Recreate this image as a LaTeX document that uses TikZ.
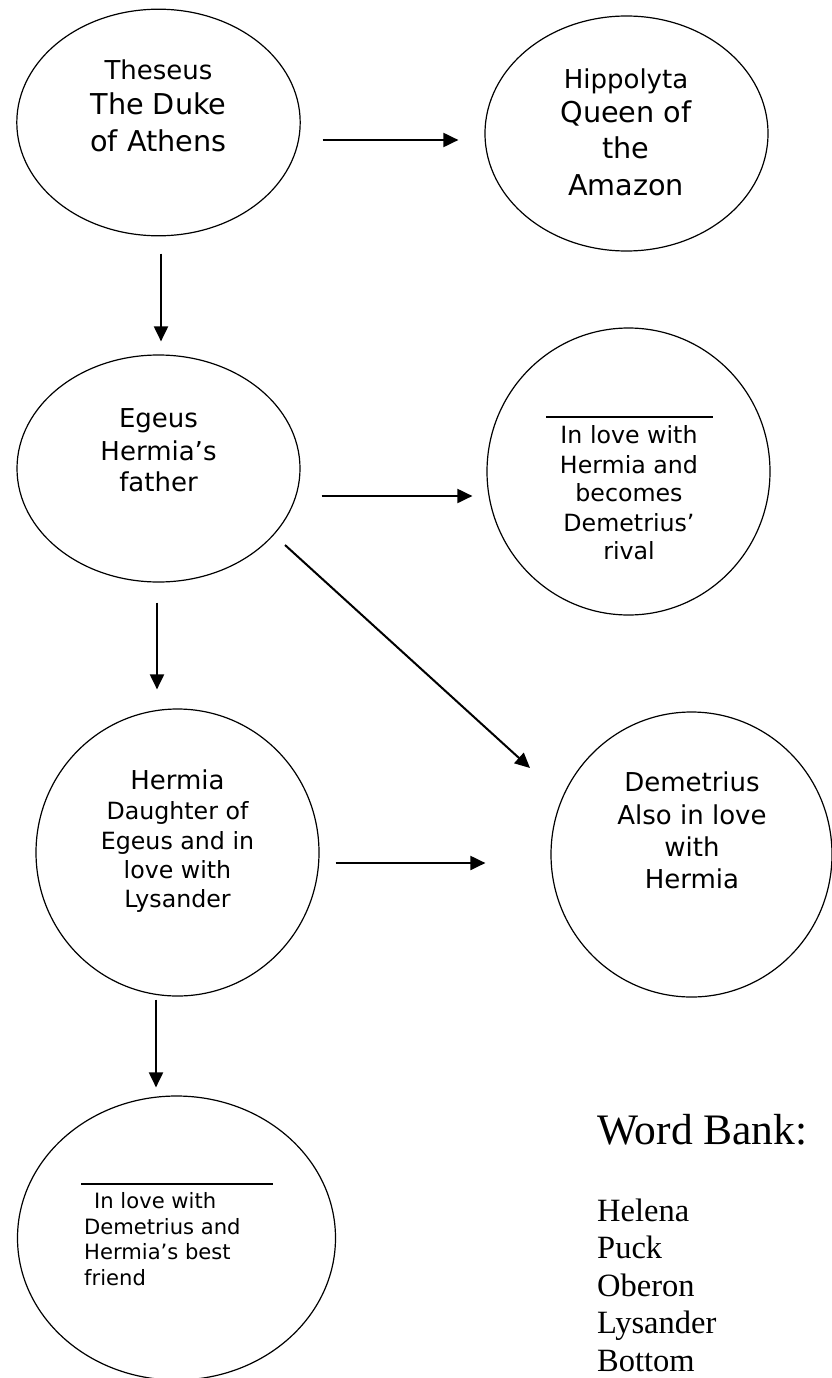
\documentclass[tikz,border=0pt]{standalone}
\usepackage{fontspec}
\setmainfont{DejaVu Sans}
\newfontfamily\wbfont{Liberation Serif}
\usetikzlibrary{shapes.geometric,arrows.meta}
\newcommand\szBig{\fontsize{28.7pt}{34pt}\selectfont}
\newcommand\szMid{\fontsize{26pt}{31pt}\selectfont}
\newcommand\szSm{\fontsize{23.7pt}{29pt}\selectfont}
\newcommand\szXs{\fontsize{21.1pt}{26pt}\selectfont}
\tikzset{
  ell/.style={draw, ellipse, line width=1.2pt, inner sep=0pt},
  arr/.style={line width=2pt, -{Triangle[length=15pt,width=14pt]}},
  tx/.style={inner sep=0pt, anchor=base},
  txl/.style={inner sep=0pt, anchor=base west},
  ovl/.style={line width=1.8pt},
}
\begin{document}
\begin{tikzpicture}[x=1pt,y=-1pt]
\fill[white] (0,0) rectangle (832,1378);
\useasboundingbox (0,0) rectangle (832,1378);

% ellipses
\node[ell, minimum width=283.4pt, minimum height=226.6pt] (theseus) at (158.5,122.5) {};
\node[ell, minimum width=283pt, minimum height=235pt] (hippo) at (626.5,133.5) {};
\node[ell, minimum width=283pt, minimum height=227pt] (egeus) at (158.5,468.5) {};
\node[ell, minimum width=283pt, minimum height=287pt] (rival) at (628.5,471.5) {};
\node[ell, minimum width=283pt, minimum height=287pt] (hermia) at (177.5,852.5) {};
\node[ell, minimum width=281pt, minimum height=285pt] (demetrius) at (691.5,854.5) {};
\node[ell, minimum width=318pt, minimum height=284pt] (helena) at (176.5,1238) {};

% texts: Theseus
\node[tx, font=\szMid] (t1) at (158.5,80) {Theseus};
\node[tx, font=\szBig] (t2) at (158.5,115) {The Duke};
\node[tx, font=\szBig] (t3) at (158.5,151) {of Athens};
% Hippolyta
\node[tx, font=\szMid] (h1) at (626,89) {Hippolyta};
\node[tx, font=\szBig] (h2) at (626,123) {Queen of};
\node[tx, font=\szBig] (h3) at (626,158) {the};
\node[tx, font=\szBig] (h4) at (626,195) {Amazon};
% Egeus
\node[tx, font=\szMid] (e1) at (158.5,427) {Egeus};
\node[tx, font=\szMid] (e2) at (158.5,460) {Hermia’s};
\node[tx, font=\szMid] (e3) at (158.5,491) {father};
% Rival
\draw[ovl] (546,417) -- (713,417);
\node[tx, font=\szSm] (r1) at (629,443) {In love with};
\node[tx, font=\szSm] (r2) at (629,473) {Hermia and};
\node[tx, font=\szSm] (r3) at (629,501) {becomes};
\node[tx, font=\szSm] (r4) at (629,531) {Demetrius’};
\node[tx, font=\szSm] (r5) at (629,559) {rival};
% Hermia
\node[tx, font=\szMid] (m1) at (177.5,789) {Hermia};
\node[tx, font=\szSm] (m2) at (177.5,819) {Daughter of};
\node[tx, font=\szSm] (m3) at (177.5,849) {Egeus and in};
\node[tx, font=\szSm] (m4) at (177.5,878) {love with};
\node[tx, font=\szSm] (m5) at (177.5,907) {Lysander};
% Demetrius
\node[tx, font=\szMid] (d1) at (692,791) {Demetrius};
\node[tx, font=\szMid] (d2) at (692,824) {Also in love};
\node[tx, font=\szMid] (d3) at (692,856) {with};
\node[tx, font=\szMid] (d4) at (692,888) {Hermia};
% Helena
\draw[ovl] (81,1184) -- (273,1184);
\node[txl, font=\szXs] (l1) at (94,1208) {In love with};
\node[txl, font=\szXs] (l2) at (84,1234) {Demetrius and};
\node[txl, font=\szXs] (l3) at (84,1259) {Hermia’s best};
\node[txl, font=\szXs] (l4) at (84,1285) {friend};

% Word bank
\node[txl, font=\wbfont\fontsize{43.5pt}{50pt}\selectfont] (wb) at (597,1144) {Word Bank:};
\node[txl, font=\wbfont\fontsize{32.5pt}{38pt}\selectfont] (w1) at (597,1221) {Helena};
\node[txl, font=\wbfont\fontsize{32.5pt}{38pt}\selectfont] (w2) at (597,1258.5) {Puck};
\node[txl, font=\wbfont\fontsize{32.5pt}{38pt}\selectfont] (w3) at (597,1296) {Oberon};
\node[txl, font=\wbfont\fontsize{32.5pt}{38pt}\selectfont] (w4) at (597,1333.5) {Lysander};
\node[txl, font=\wbfont\fontsize{32.5pt}{38pt}\selectfont] (w5) at (597,1371) {Bottom};

% arrows
\draw[arr] ([shift={(21.8,17.5)}]theseus.east) -- ([shift={(-26,6.5)}]hippo.west);
\draw[arr] ([shift={(2.5,17.2)}]theseus.south) -- ([shift={(2.5,-13)}]egeus.north);
\draw[arr] ([shift={(21,27.5)}]egeus.east) -- ([shift={(-14,24.5)}]rival.west);
\draw[arr] ([shift={(126.5,76.5)}]egeus.center) -- ([shift={(-161.5,-86.5)}]demetrius.center);
\draw[arr] ([shift={(-1.5,20)}]egeus.south) -- ([shift={(-20.5,-19)}]hermia.north);
\draw[arr] ([shift={(16,10.5)}]hermia.east) -- ([shift={(-65,8.5)}]demetrius.west);
\draw[arr] ([shift={(-21.5,3)}]hermia.south) -- ([shift={(-20.5,-8)}]helena.north);
\end{tikzpicture}
\end{document}
